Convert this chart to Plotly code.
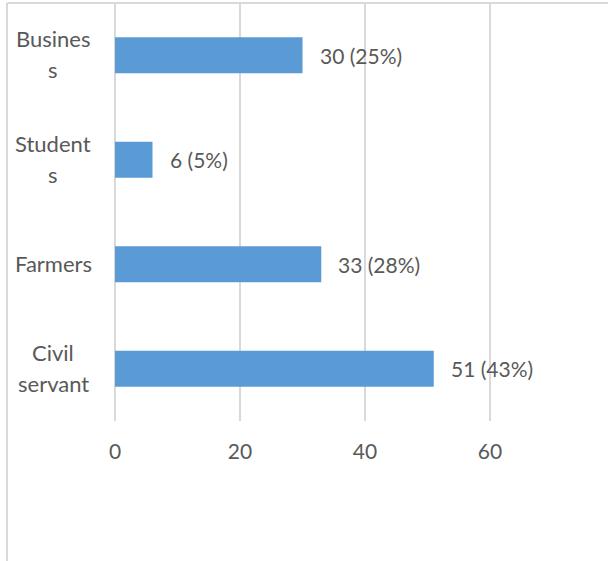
import plotly.graph_objects as go

categories = ["Civil servant", "Farmers", "Students", "Business"]
cat_label_lines = [["Civil", "servant"], ["Farmers"], ["Student", "s"], ["Busines", "s"]]
counts = [51, 33, 6, 30]
percents = [43, 28, 5, 25]
x_ticks = [0, 20, 40, 60]

W, H = 608, 561
L, R, T, B = 115, 0, 3, 140
px_per_unit = 6.25
x_max = (W - L - R) / px_per_unit

text_color = "#595959"
grid_color = "#D9D9D9"
bar_color = "#5B9BD5"
font_family = "Lato, 'Open Sans', sans-serif"
line_gap = 31

fig = go.Figure()
fig.add_trace(go.Bar(
    x=counts, y=categories, orientation="h",
    marker=dict(color=bar_color, line=dict(width=0)),
    width=0.345, hoverinfo="skip",
))

annotations = []
for c, v, p in zip(categories, counts, percents):
    annotations.append(dict(
        x=v, y=c, xref="x", yref="y", text=f"{v} ({p}%)",
        showarrow=False, xanchor="left", yanchor="middle", xshift=15,
        font=dict(family=font_family, size=21, color=text_color),
    ))
for c, lines in zip(categories, cat_label_lines):
    n = len(lines)
    for i, ln in enumerate(lines):
        shift = ((n - 1) / 2 - i) * line_gap
        annotations.append(dict(
            x=-0.125, y=c, xref="paper", yref="y", text=ln,
            showarrow=False, xanchor="center", yanchor="middle",
            yshift=shift + 1,
            font=dict(family=font_family, size=22, color=text_color),
        ))

pw = W - L - R
ph = H - T - B
left_x = (7 - L) / pw
bottom_y = (H - B - H) / ph
shapes = [
    dict(type="line", xref="paper", yref="paper", x0=left_x, x1=left_x,
         y0=bottom_y, y1=1, line=dict(color=grid_color, width=2)),
    dict(type="line", xref="paper", yref="paper", x0=left_x, x1=(W - L) / pw,
         y0=1, y1=1, line=dict(color=grid_color, width=2)),
]

fig.update_layout(
    width=W, height=H,
    margin=dict(l=L, r=R, t=T, b=B, pad=0),
    paper_bgcolor="white", plot_bgcolor="white",
    showlegend=False,
    xaxis=dict(range=[0, x_max], tickvals=x_ticks, showgrid=True,
               gridcolor=grid_color, gridwidth=1.5, zeroline=True,
               zerolinecolor=grid_color, zerolinewidth=1.5, showline=False,
               ticks="", ticklabelstandoff=16,
               tickfont=dict(family=font_family, size=21, color=text_color)),
    yaxis=dict(categoryorder="array", categoryarray=categories,
               showticklabels=False, showgrid=False, zeroline=False,
               showline=False, ticks="", range=[-0.5, 3.5]),
    annotations=annotations, shapes=shapes,
)

fig.write_html("out.html", config={"displayModeBar": False},
               post_script="document.body.style.margin='0';document.body.style.overflow='hidden';")
